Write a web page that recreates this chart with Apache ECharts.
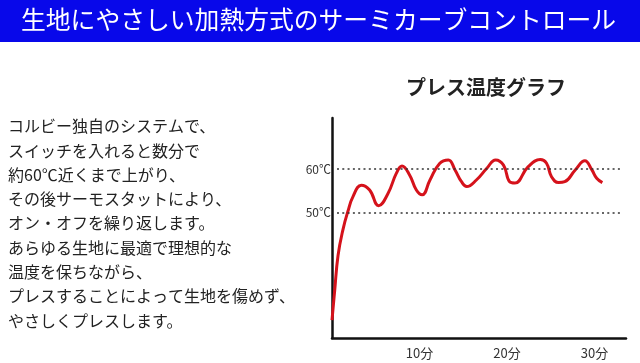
<!DOCTYPE html>
<html>
<head>
<meta charset="utf-8">
<style>
html,body{margin:0;padding:0;background:#fff;}
#chart{width:640px;height:363px;}
</style>
<script src="https://cdn.jsdelivr.net/npm/echarts@6/dist/echarts.min.js"></script>
</head>
<body>
<div id="chart"></div>
<script>
// ---- data ----
const headerText = '生地にやさしい加熱方式のサーミカーブコントロール';
const chartTitle = 'プレス温度グラフ';
const bodyLines = [
  'コルビー独自のシステムで、',
  'スイッチを入れると数分で',
  '約60℃近くまで上がり、',
  'その後サーモスタットにより、',
  'オン・オフを繰り返します。',
  'あらゆる生地に最適で理想的な',
  '温度を保ちながら、',
  'プレスすることによって生地を傷めず、',
  'やさしくプレスします。'
];
const minutes = [0, 0.3, 0.69, 1.26, 1.83, 2.4, 3.35, 4.3, 5.33, 6.4, 7.35, 8.0, 8.88, 9.64, 10.3, 11.2, 12.3, 13.3, 14.06, 14.8, 15.4, 16.5, 17.7, 18.7, 19.6, 20.3, 20.9, 22.4, 23.8, 24.5, 25.1, 25.9, 26.6, 27.8, 28.9, 29.7, 30.25, 30.9];
const temps = [25.4, 32, 40.2, 46.2, 50.4, 53.7, 56.3, 55.2, 51.6, 54.4, 59.0, 60.7, 58.6, 55.2, 54.1, 57.5, 61.3, 62.1, 59.8, 57.1, 56.0, 57.5, 60.2, 62.1, 60.9, 57.1, 56.8, 60.5, 62.2, 61.4, 58.2, 56.9, 57.1, 59.8, 61.9, 59.8, 57.9, 56.9];
const xTicks = [10, 20, 30];
const refTemps = [60, 50];
const refStart = 0.57, refEnd = 32.9;

const jp = '"Noto Sans CJK JP", "Noto Sans", sans-serif';
const chart = echarts.init(document.getElementById('chart'), null, {renderer: 'canvas'});

const graphics = [
  {type: 'rect', left: 0, top: 0, shape: {width: 640, height: 42}, style: {fill: '#0808ea'}, silent: true},
  {type: 'text', left: 21, top: 7, style: {text: headerText, fill: '#fff', font: '24.8px ' + jp}},
  {type: 'text', left: 8, top: 114, style: {text: bodyLines.join('\n'), fill: '#222', font: '16px ' + jp, lineHeight: 24.3}}
];

chart.setOption({
  animation: false,
  backgroundColor: '#fff',
  title: {
    text: chartTitle, left: 481, top: 72, textAlign: 'center',
    textStyle: {fontFamily: jp, fontSize: 20, fontWeight: 'bold', color: '#222'}
  },
  graphic: graphics,
  grid: {left: 332, right: 14, top: 118, bottom: 25},
  xAxis: {
    type: 'value', min: 0, max: 33.6, interval: 10,
    axisLine: {show: true, lineStyle: {color: '#111', width: 2.5}},
    axisTick: {show: false},
    splitLine: {show: false},
    axisLabel: {
      margin: 9, color: '#333', fontSize: 13, fontFamily: jp,
      formatter: v => xTicks.includes(v) ? v + '分' : ''
    }
  },
  yAxis: {
    type: 'value', min: 21.3, max: 71.7,
    axisLine: {show: true, lineStyle: {color: '#111', width: 2.5}},
    axisTick: {show: false},
    axisLabel: {show: false},
    splitLine: {show: false}
  },
  series: [{
    type: 'line',
    data: minutes.map((m, i) => [m, temps[i]]),
    smooth: 0.45,
    showSymbol: false,
    lineStyle: {color: '#d5121b', width: 3},
    markLine: {
      silent: true, symbol: 'none',
      lineStyle: {type: [2, 3.3], color: '#333', width: 1.6},
      label: {position: 'start', distance: 6, color: '#333', fontSize: 12, fontFamily: jp, formatter: p => p.data.name},
      data: refTemps.map(t => [
        {coord: [refStart, t], name: t + '℃'},
        {coord: [refEnd, t]}
      ])
    }
  }]
});
</script>
</body>
</html>
